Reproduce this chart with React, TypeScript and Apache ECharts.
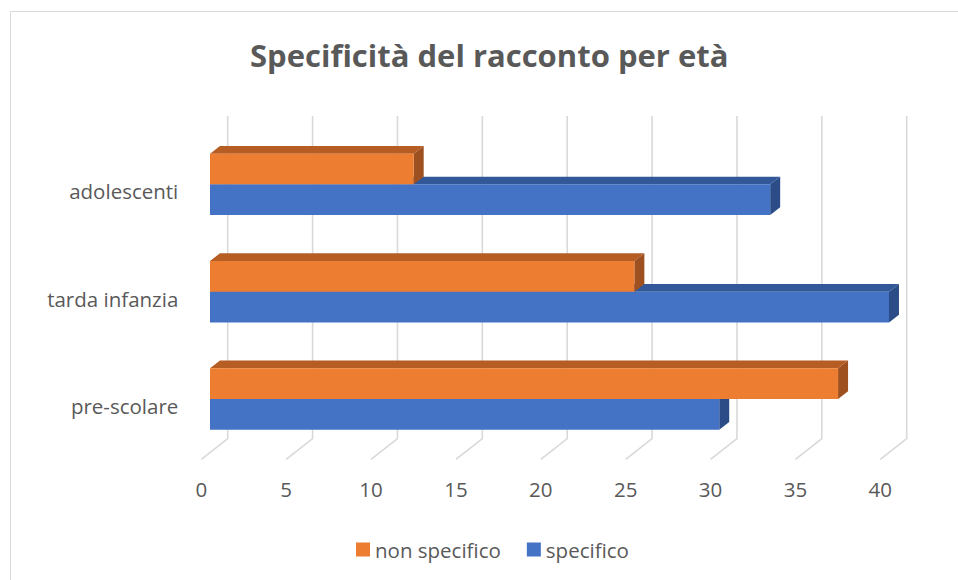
import React, { useEffect, useRef } from "react";
import * as echarts from "echarts";

const categories = ["pre-scolare", "tarda infanzia", "adolescenti"];
const specifico = [30, 40, 33];
const nonSpecifico = [37, 25, 12];
const xTickValues = [0, 5, 10, 15, 20, 25, 30, 35, 40];
const seriesNames = ["non specifico", "specifico"];
const titleText = "Specificità del racconto per età";

const FONT = "'Open Sans', 'Noto Sans', sans-serif";
const TEXT = "#595959";
const GRIDLINE = "#D9D9D9";

const ORANGE = { front: "#ED7D31", top: "#B65D24", side: "#9E5020" };
const BLUE = { front: "#4472C4", top: "#33589A", side: "#2B4C86" };

// depth geometry (relative to the category band size)
const BAR_RATIO = 0.286;
const DEPTH_DX = 0.093;
const DEPTH_DY = 0.072;

function makeBarRenderer(above: boolean, c: { front: string; top: string; side: string }) {
  return (params: any, api: any) => {
    const val = api.value(0);
    const cat = api.value(1);
    const start = api.coord([0, cat]);
    const end = api.coord([val, cat]);
    const band = api.size([0, 1])[1];
    const th = band * BAR_RATIO;
    const dx = band * DEPTH_DX;
    const dy = band * DEPTH_DY;
    const y0 = above ? start[1] - th : start[1];
    const x0 = start[0];
    const x1 = end[0];
    return {
      type: "group",
      children: [
        {
          type: "polygon",
          shape: { points: [[x0, y0], [x0 + dx, y0 - dy], [x1 + dx, y0 - dy], [x1, y0]] },
          style: { fill: c.top },
        },
        {
          type: "polygon",
          shape: { points: [[x1, y0], [x1 + dx, y0 - dy], [x1 + dx, y0 - dy + th], [x1, y0 + th]] },
          style: { fill: c.side },
        },
        {
          type: "rect",
          shape: { x: x0, y: y0, width: x1 - x0, height: th },
          style: { fill: c.front },
        },
      ],
    };
  };
}

function gridRenderer(params: any, api: any) {
  const v = api.value(0);
  const p = api.coord([v, 0]);
  const cs = params.coordSys;
  const band = api.size([0, 1])[1];
  const wx = p[0] + band * 0.165;
  const top = cs.y - band * 0.137;
  const bottom = cs.y + cs.height - band * 0.132;
  const fx = p[0] - band * 0.081;
  const fy = cs.y + cs.height + band * 0.062;
  return {
    type: "polyline",
    shape: { points: [[wx, top], [wx, bottom], [fx, fy]] },
    style: { stroke: GRIDLINE, lineWidth: 1.6, fill: "none" },
  };
}

export default function App() {
  const ref = useRef<HTMLDivElement>(null);
  useEffect(() => {
    if (!ref.current) return;
    const chart = echarts.init(ref.current, null, { renderer: "svg" });
    const gridA = { left: 210, width: 679, top: 130.7, height: 322 };
    const gridB = { left: 201.3, width: 679, top: 137.7, height: 322 };
    chart.setOption({
      animation: false,
      backgroundColor: "#FFFFFF",
      title: {
        text: titleText,
        left: 250,
        top: 39,
        padding: 0,
        textStyle: { fontFamily: FONT, fontWeight: "bold", fontSize: 31, color: TEXT },
      },
      legend: {
        data: seriesNames,
        left: 356,
        top: 539,
        padding: 0,
        itemWidth: 14,
        itemHeight: 14,
        itemGap: 26,
        icon: "rect",
        selectedMode: false,
        textStyle: { fontFamily: FONT, fontSize: 20.5, color: TEXT },
      },
      graphic: [
        {
          type: "rect",
          shape: { x: 10.5, y: 11.5, width: 1000, height: 1000 },
          style: { fill: "none", stroke: GRIDLINE, lineWidth: 1 },
          silent: true,
          z: -10,
        },
      ],
      grid: [
        { ...gridA, containLabel: false },
        { ...gridB, containLabel: false },
      ],
      xAxis: [
        { type: "value", gridIndex: 0, min: 0, max: 40, interval: 5, show: false },
        {
          type: "value",
          gridIndex: 1,
          min: 0,
          max: 40,
          interval: 5,
          axisLine: { show: false },
          axisTick: { show: false },
          splitLine: { show: false },
          axisLabel: { fontFamily: FONT, fontSize: 20.5, color: TEXT, margin: 19 },
        },
      ],
      yAxis: [
        { type: "category", gridIndex: 0, data: categories, show: false },
        {
          type: "category",
          gridIndex: 1,
          data: categories,
          axisLine: { show: false },
          axisTick: { show: false },
          splitLine: { show: false },
          axisLabel: { fontFamily: FONT, fontSize: 20.5, color: TEXT, margin: 23 },
        },
      ],
      series: [
        {
          type: "custom",
          name: "grid",
          xAxisIndex: 0,
          yAxisIndex: 0,
          silent: true,
          z: 1,
          encode: { x: 0, y: 1 },
          data: xTickValues.map((v) => [v, 0]),
          renderItem: gridRenderer,
        },
        {
          type: "custom",
          name: seriesNames[1],
          xAxisIndex: 0,
          yAxisIndex: 0,
          z: 2,
          itemStyle: { color: BLUE.front },
          encode: { x: 0, y: 1 },
          data: specifico.map((v, i) => [v, i]),
          renderItem: makeBarRenderer(false, BLUE),
        },
        {
          type: "custom",
          name: seriesNames[0],
          xAxisIndex: 0,
          yAxisIndex: 0,
          z: 3,
          itemStyle: { color: ORANGE.front },
          encode: { x: 0, y: 1 },
          data: nonSpecifico.map((v, i) => [v, i]),
          renderItem: makeBarRenderer(true, ORANGE),
        },
      ],
    });
    return () => chart.dispose();
  }, []);
  return (
    <div
      ref={ref}
      style={{ position: "absolute", left: 0, top: 0, width: 958, height: 580 }}
    />
  );
}
